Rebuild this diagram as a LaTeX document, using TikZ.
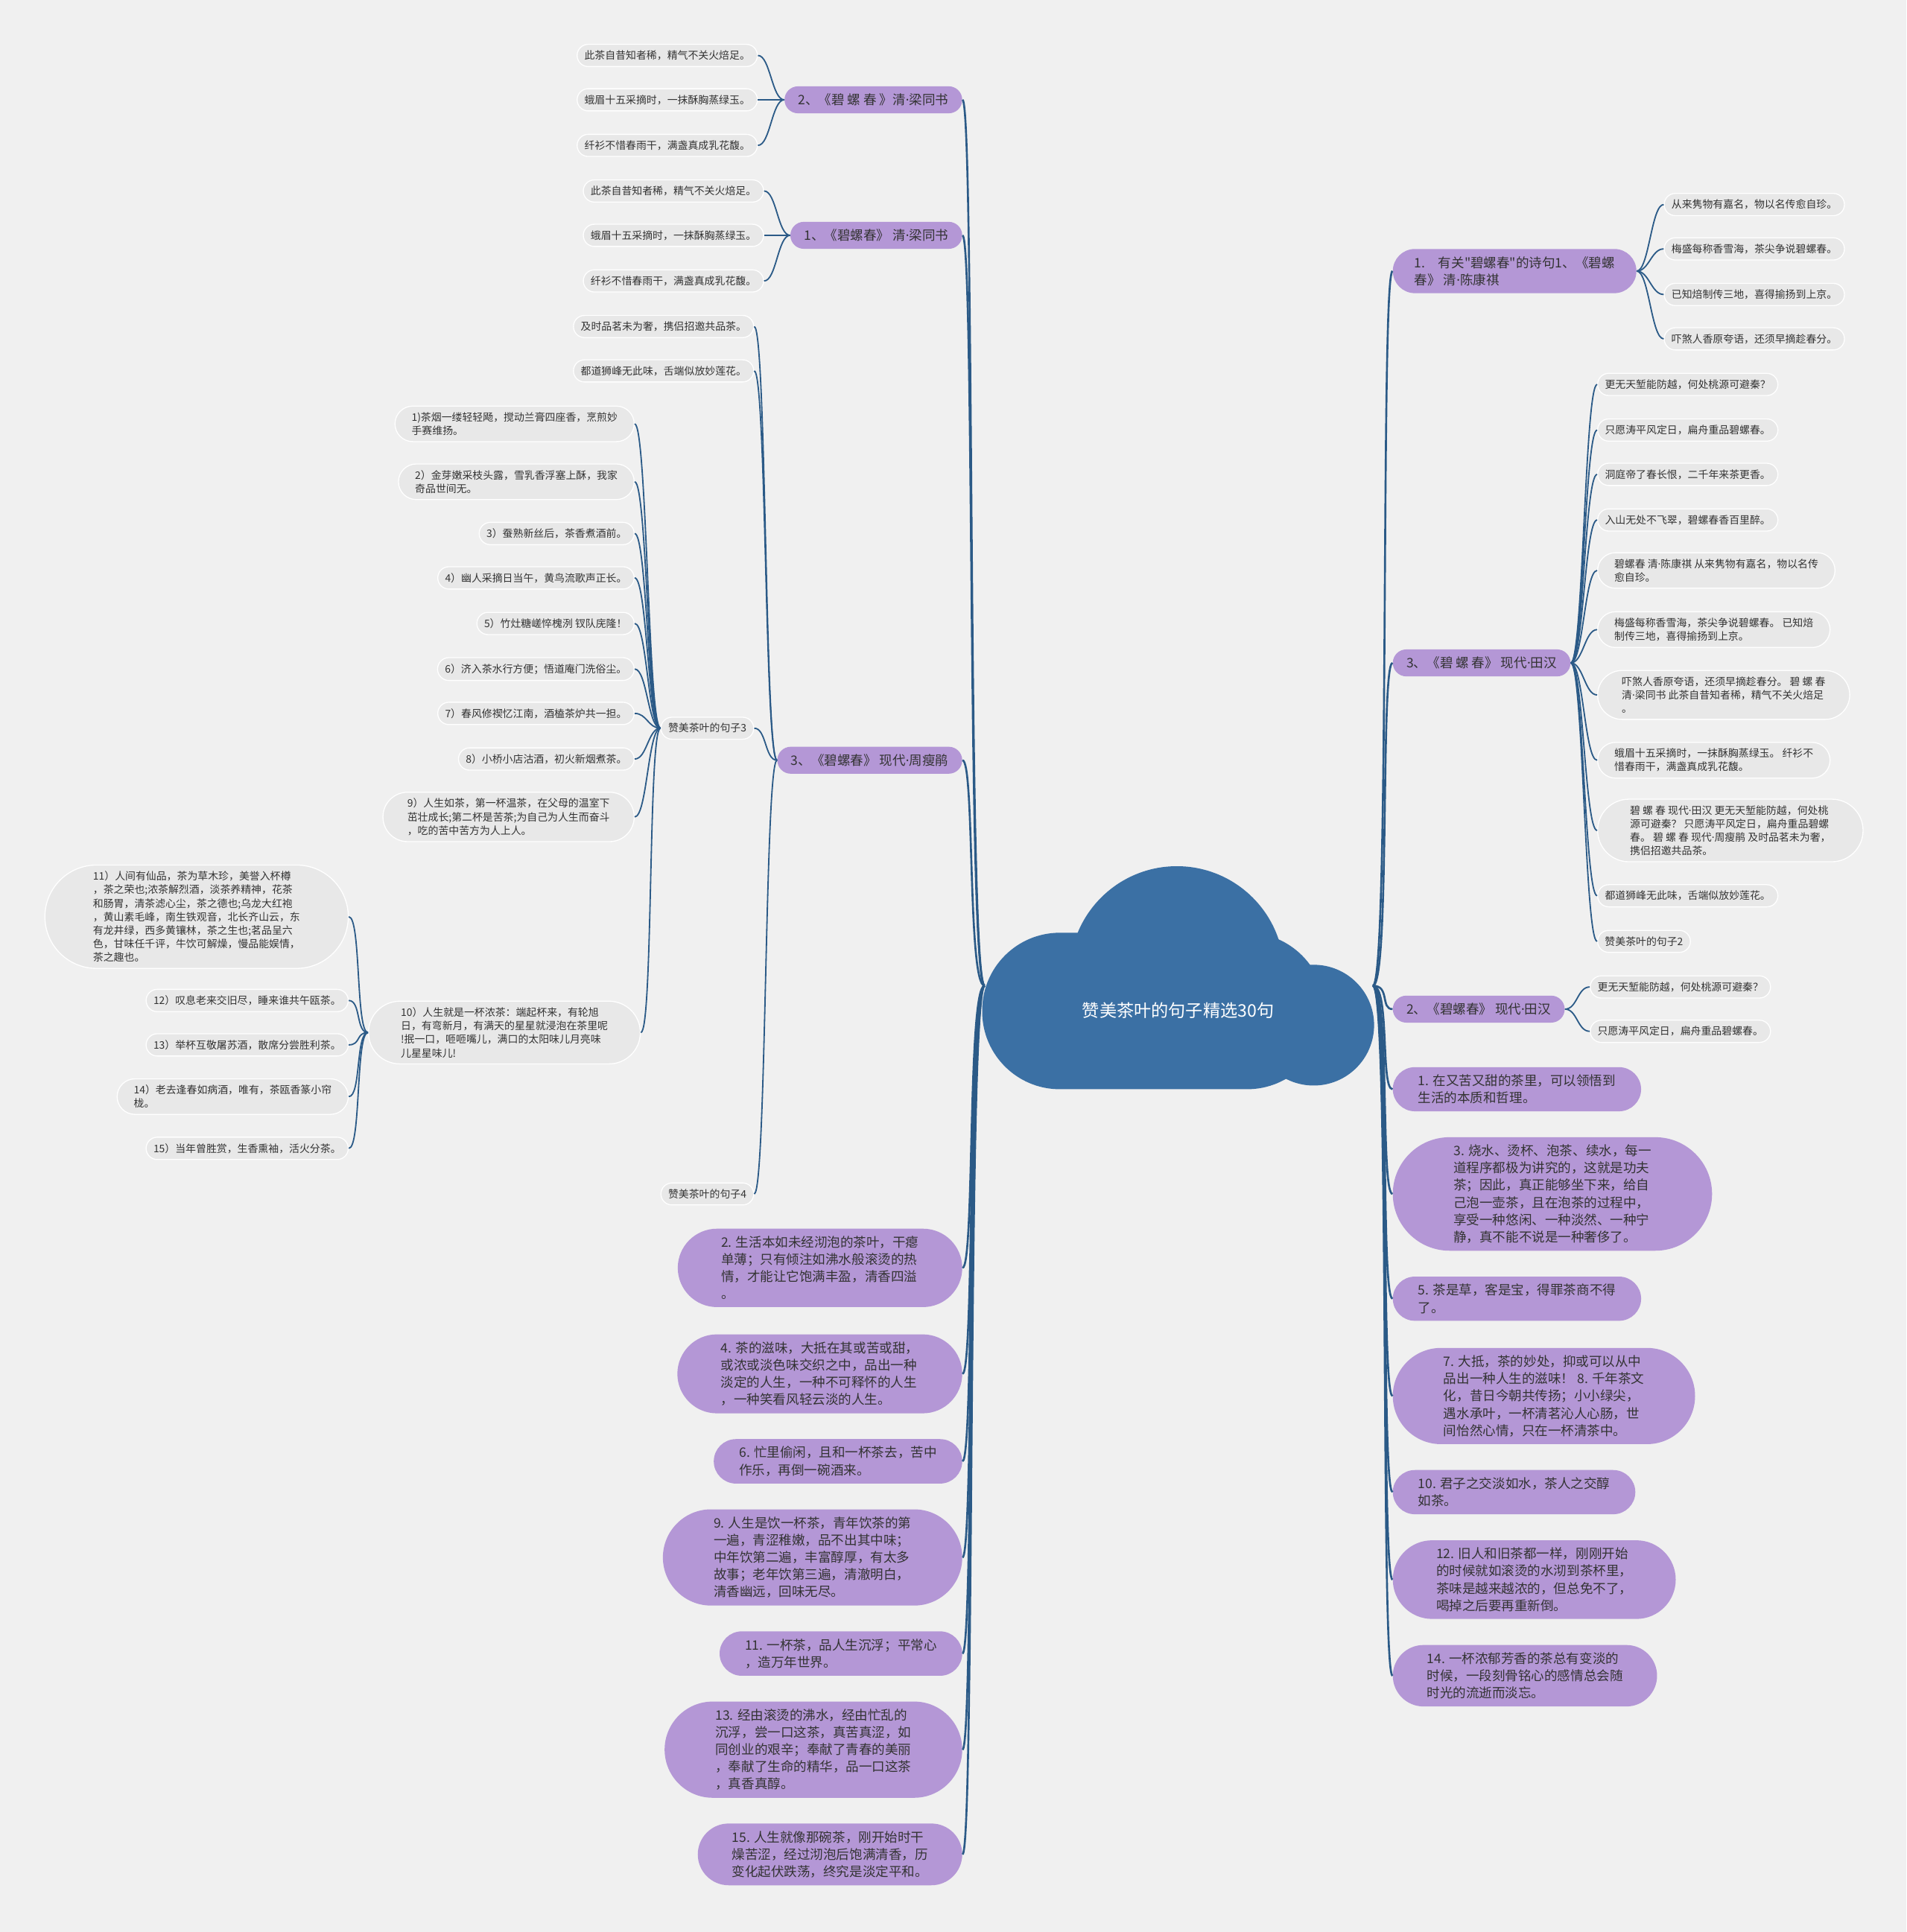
\documentclass[tikz,border=0pt]{standalone}
\usepackage{fontspec}
\setmainfont{Noto Sans CJK SC}
\newfontfamily\plainfont{Noto Sans CJK SC}
\newfontfamily\dotfont{Noto Sans}
\newcommand{\mdot}{{\dotfont ·}}
\newcommand{\qt}{{\plainfont "}}
\usetikzlibrary{shapes.misc}

\definecolor{bgcol}{RGB}{240,240,240}
\definecolor{leafgray}{RGB}{232,232,232}
\definecolor{lilac}{RGB}{180,151,214}
\definecolor{linkblue}{RGB}{43,90,135}
\definecolor{cloudblue}{RGB}{59,112,164}
\definecolor{txt}{RGB}{51,51,51}

\tikzset{
  leaf/.style={rounded rectangle, fill=leafgray, draw=white, line width=0.8pt,
    inner xsep=5pt, inner ysep=5pt, font=\fontsize{8.4}{11}\selectfont, text=txt, align=left},
  topic/.style={rounded rectangle, fill=lilac, inner xsep=10pt, inner ysep=6pt,
    font=\fontsize{10.6}{14}\selectfont, text=txt, align=left},
  pad/.style={inner xsep=#1},
  trunk/.style={draw=linkblue, line width=1.6pt},
  twig/.style={draw=linkblue, line width=1.1pt},
}

\begin{document}
\begin{tikzpicture}[x=1pt, y=-1pt]
    %canvas
    \useasboundingbox (0,0) rectangle (1547,1568);
    \fill[bgcol] (0,0) rectangle (1547,1568);

    %cloud
    \fill[cloudblue, rounded corners=63] (797,757) rectangle (1075,884);
    \fill[cloudblue] (955,790) circle[radius=87];
    \fill[cloudblue] (1066,832) circle[radius=49];
    \node[text=white, font=\fontsize{14}{16}\selectfont] (root) at (956,820) {赞美茶叶的句子精选30句};
    \coordinate (rootL) at (799,800);
    \coordinate (rootR) at (1114,800);

    %left branches
    \node[topic, anchor=east] (lb2) at (781,81) {2、《碧 螺 春 》清\mdot 梁同书};
    \node[leaf, anchor=east] (l2a) at (615,45) {此茶自昔知者稀，精气不关火焙足。};
    \node[leaf, anchor=east] (l2b) at (615,81) {蛾眉十五采摘时，一抹酥胸蒸绿玉。};
    \node[leaf, anchor=east] (l2c) at (615,118) {纤衫不惜春雨干，满盏真成乳花馥。};

    \node[topic, anchor=east] (lb1) at (781,191) {1、《碧螺春》 清\mdot 梁同书};
    \node[leaf, anchor=east] (l1a) at (620,155) {此茶自昔知者稀，精气不关火焙足。};
    \node[leaf, anchor=east] (l1b) at (620,191) {蛾眉十五采摘时，一抹酥胸蒸绿玉。};
    \node[leaf, anchor=east] (l1c) at (620,228) {纤衫不惜春雨干，满盏真成乳花馥。};

    \node[topic, anchor=east] (lb3) at (781,617) {3、《碧螺春》 现代\mdot 周瘦鹃};
    \node[leaf, anchor=east] (l3a) at (612,265) {及时品茗未为奢，携侣招邀共品茶。};
    \node[leaf, anchor=east] (l3b) at (612,301) {都道狮峰无此味，舌端似放妙莲花。};
    \node[leaf, anchor=east] (s3) at (612,591) {赞美茶叶的句子3};
    \node[leaf, anchor=east] (s4) at (612,969) {赞美茶叶的句子4};

    %sentences 3
    \node[leaf, pad=10pt, anchor=east] (q1) at (515,344) {1)茶烟一缕轻轻飏，搅动兰膏四座香，烹煎妙\\手赛维扬。};
    \node[leaf, pad=10pt, anchor=east] (q2) at (515,391) {2）金芽嫩采枝头露，雪乳香浮塞上酥，我家\\奇品世间无。};
    \node[leaf, anchor=east] (q3) at (515,433) {3）蚕熟新丝后，茶香煮酒前。};
    \node[leaf, anchor=east] (q4) at (515,469) {4）幽人采摘日当午，黄鸟流歌声正长。};
    \node[leaf, anchor=east] (q5) at (515,506) {5）竹灶糖嵯悴槐洌 钗队庑隆！};
    \node[leaf, anchor=east] (q6) at (515,543) {6）济入茶水行方便；悟道庵门洗俗尘。};
    \node[leaf, anchor=east] (q7) at (515,579) {7）春风修禊忆江南，酒榼茶炉共一担。};
    \node[leaf, anchor=east] (q8) at (515,616) {8）小桥小店沽酒，初火新烟煮茶。};
    \node[leaf, pad=13pt, anchor=east] (q9) at (515,663) {9）人生如茶，第一杯温茶，在父母的温室下\\茁壮成长;第二杯是苦茶;为自己为人生而奋斗\\，吃的苦中苦方为人上人。};
    \node[leaf, pad=16pt, anchor=east] (q10) at (520,838) {10）人生就是一杯浓茶：端起杯来，有轮旭\\日，有弯新月，有满天的星星就浸泡在茶里呢\\!抿一口，咂咂嘴儿，满口的太阳味儿月亮味\\儿星星味儿!};
    \node[leaf, pad=17pt, anchor=east] (q11) at (283,744) {11）人间有仙品，茶为草木珍，美誉入杯樽\\，茶之荣也;浓茶解烈酒，淡茶养精神，花茶\\和肠胃，清茶滤心尘，茶之德也;乌龙大红袍\\，黄山素毛峰，南生铁观音，北长齐山云，东\\有龙井绿，西多黄镶林，茶之生也;茗品呈六\\色，甘味任千评，牛饮可解燥，慢品能娱情，\\茶之趣也。};
    \node[leaf, anchor=east] (q12) at (283,812) {12）叹息老来交旧尽，睡来谁共午瓯茶。};
    \node[leaf, anchor=east] (q13) at (283,848) {13）举杯互敬屠苏酒，散席分尝胜利茶。};
    \node[leaf, pad=10pt, anchor=east] (q14) at (283,890) {14）老去逢春如病酒，唯有，茶瓯香篆小帘\\栊。};
    \node[leaf, anchor=east] (q15) at (283,932) {15）当年曾胜赏，生香熏袖，活火分茶。};

    %left sentences
    \node[topic, pad=22pt, anchor=east] (p2) at (781,1029) {2. 生活本如未经沏泡的茶叶，干瘪\\单薄；只有倾注如沸水般滚烫的热\\情，才能让它饱满丰盈，清香四溢\\。};
    \node[topic, pad=22pt, anchor=east] (p4) at (781,1115) {4. 茶的滋味，大抵在其或苦或甜，\\或浓或淡色味交织之中，品出一种\\淡定的人生，一种不可释怀的人生\\，一种笑看风轻云淡的人生。};
    \node[topic, pad=16pt, anchor=east] (p6) at (781,1186) {6. 忙里偷闲，且和一杯茶去，苦中\\作乐，再倒一碗酒来。};
    \node[topic, pad=23pt, anchor=east] (p9) at (781,1264) {9. 人生是饮一杯茶，青年饮茶的第\\一遍，青涩稚嫩，品不出其中味；\\中年饮第二遍，丰富醇厚，有太多\\故事；老年饮第三遍，清澈明白，\\清香幽远，回味无尽。};
    \node[topic, pad=16pt, anchor=east] (p11) at (781,1342) {11. 一杯茶，品人生沉浮；平常心\\，造万年世界。};
    \node[topic, pad=23pt, anchor=east] (p13) at (781,1420) {13. 经由滚烫的沸水，经由忙乱的\\沉浮，尝一口这茶，真苦真涩，如\\同创业的艰辛；奉献了青春的美丽\\，奉献了生命的精华，品一口这茶\\，真香真醇。};
    \node[topic, pad=19pt, anchor=east] (p15) at (781,1505) {15. 人生就像那碗茶，刚开始时干\\燥苦涩，经过沏泡后饱满清香，历\\变化起伏跌荡，终究是淡定平和。};

    %right branches
    \node[topic, pad=13pt, anchor=west] (rb1) at (1130,220) {1.　有关\qt 碧螺春\qt 的诗句1、《碧螺\\春》 清\mdot 陈康祺};
    \node[leaf, anchor=west] (r1a) at (1350,166) {从来隽物有嘉名，物以名传愈自珍。};
    \node[leaf, anchor=west] (r1b) at (1350,202) {梅盛每称香雪海，茶尖争说碧螺春。};
    \node[leaf, anchor=west] (r1c) at (1350,239) {已知焙制传三地，喜得揄扬到上京。};
    \node[leaf, anchor=west] (r1d) at (1350,275) {吓煞人香原夸语，还须早摘趁春分。};

    \node[topic, anchor=west] (rb3) at (1130,538) {3、《碧 螺 春》 现代\mdot 田汉};
    \node[leaf, anchor=west] (r3a) at (1296,312) {更无天堑能防越，何处桃源可避秦？};
    \node[leaf, anchor=west] (r3b) at (1296,349) {只愿涛平风定日，扁舟重品碧螺春。};
    \node[leaf, anchor=west] (r3c) at (1296,385) {洞庭帝了春长恨，二千年来茶更香。};
    \node[leaf, anchor=west] (r3d) at (1296,422) {入山无处不飞翠，碧螺春香百里醉。};
    \node[leaf, pad=10pt, anchor=west] (r3e) at (1296,463) {碧螺春 清\mdot 陈康祺 从来隽物有嘉名，物以名传\\愈自珍。};
    \node[leaf, pad=10pt, anchor=west] (r3f) at (1296,511) {梅盛每称香雪海，茶尖争说碧螺春。 已知焙\\制传三地，喜得揄扬到上京。};
    \node[leaf, pad=13pt, anchor=west] (r3g) at (1296,564) {吓煞人香原夸语，还须早摘趁春分。 碧 螺 春\\清\mdot 梁同书 此茶自昔知者稀，精气不关火焙足\\。};
    \node[leaf, pad=10pt, anchor=west] (r3h) at (1296,617) {蛾眉十五采摘时，一抹酥胸蒸绿玉。 纤衫不\\惜春雨干，满盏真成乳花馥。};
    \node[leaf, pad=16pt, anchor=west] (r3i) at (1296,674) {碧 螺 春 现代\mdot 田汉 更无天堑能防越，何处桃\\源可避秦？ 只愿涛平风定日，扁舟重品碧螺\\春。 碧 螺 春 现代\mdot 周瘦鹃 及时品茗未为奢，\\携侣招邀共品茶。};
    \node[leaf, anchor=west] (r3j) at (1296,727) {都道狮峰无此味，舌端似放妙莲花。};
    \node[leaf, anchor=west] (r3k) at (1296,764) {赞美茶叶的句子2};

    \node[topic, anchor=west] (rb2) at (1130,819) {2、《碧螺春》 现代\mdot 田汉};
    \node[leaf, anchor=west] (r2a) at (1290,801) {更无天堑能防越，何处桃源可避秦？};
    \node[leaf, anchor=west] (r2b) at (1290,837) {只愿涛平风定日，扁舟重品碧螺春。};

    %right sentences
    \node[topic, pad=16pt, anchor=west] (r1) at (1130,884) {1. 在又苦又甜的茶里，可以领悟到\\生活的本质和哲理。};
    \node[topic, pad=26pt, anchor=west] (r3) at (1130,969) {3. 烧水、烫杯、泡茶、续水，每一\\道程序都极为讲究的，这就是功夫\\茶；因此，真正能够坐下来，给自\\己泡一壶茶，且在泡茶的过程中，\\享受一种悠闲、一种淡然、一种宁\\静，真不能不说是一种奢侈了。};
    \node[topic, pad=16pt, anchor=west] (r5) at (1130,1054) {5. 茶是草，客是宝，得罪茶商不得\\了。};
    \node[topic, pad=23pt, anchor=west] (r7) at (1130,1133) {7. 大抵，茶的妙处，抑或可以从中\\品出一种人生的滋味！ 8. 千年茶文\\化，昔日今朝共传扬；小小绿尖，\\遇水承叶，一杯清茗沁人心肠，世\\间怡然心情，只在一杯清茶中。};
    \node[topic, pad=16pt, anchor=west] (r10) at (1130,1211) {10. 君子之交淡如水，茶人之交醇\\如茶。};
    \node[topic, pad=22pt, anchor=west] (r12) at (1130,1282) {12. 旧人和旧茶都一样，刚刚开始\\的时候就如滚烫的水沏到茶杯里，\\茶味是越来越浓的，但总免不了，\\喝掉之后要再重新倒。};
    \node[topic, pad=19pt, anchor=west] (r14) at (1130,1360) {14. 一杯浓郁芳香的茶总有变淡的\\时候，一段刻骨铭心的感情总会随\\时光的流逝而淡忘。};

    %trunk lines
    \foreach \n in {lb2,lb1,lb3,p2,p4,p6,p9,p11,p13,p15}
        \draw[trunk] (rootL) .. controls +(-14,0) and +(10,0) .. (\n.east);
    \foreach \n in {rb1,rb3,rb2,r1,r3,r5,r7,r10,r12,r14}
        \draw[trunk] (rootR) .. controls +(14,0) and +(-10,0) .. (\n.west);

    %twigs left
    \foreach \a/\b in {lb2/l2a,lb2/l2b,lb2/l2c,lb1/l1a,lb1/l1b,lb1/l1c,
        lb3/l3a,lb3/l3b,lb3/s3,lb3/s4,
        s3/q1,s3/q2,s3/q3,s3/q4,s3/q5,s3/q6,s3/q7,s3/q8,s3/q9,s3/q10,
        q10/q11,q10/q12,q10/q13,q10/q14,q10/q15}
        \draw[twig] (\a.west) .. controls +(-10,0) and +(10,0) .. (\b.east);

    %twigs right
    \foreach \a/\b in {rb1/r1a,rb1/r1b,rb1/r1c,rb1/r1d,
        rb3/r3a,rb3/r3b,rb3/r3c,rb3/r3d,rb3/r3e,rb3/r3f,rb3/r3g,rb3/r3h,rb3/r3i,rb3/r3j,rb3/r3k,
        rb2/r2a,rb2/r2b}
        \draw[twig] (\a.east) .. controls +(10,0) and +(-10,0) .. (\b.west);
\end{tikzpicture}
\end{document}
